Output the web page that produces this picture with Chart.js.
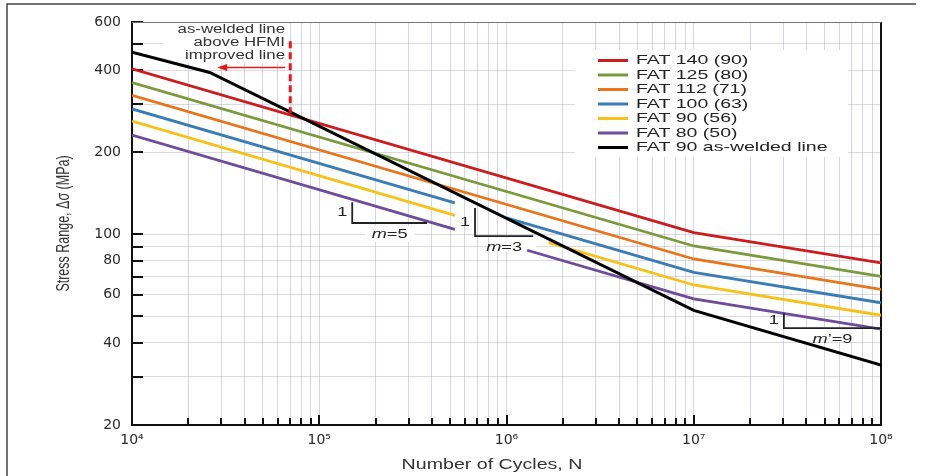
<!DOCTYPE html>
<html>
<head>
<meta charset="utf-8">
<script src="https://cdn.jsdelivr.net/npm/chart.js@4.4.0/dist/chart.umd.min.js"></script>
<style>
  html, body { margin: 0; padding: 0; background: #fff; }
  canvas { display: block; }
</style>
</head>
<body>
<canvas id="sn" width="931" height="476"></canvas>
<script>
/* S-N curves, HFMI improved classes vs as-welded FAT 90 */

// number of cycles / stress range (MPa) for every line
const n140 = [1e4, 1e7, 1e8];
const s140 = [404, 101.5, 78.6];
const n125 = [1e4, 1e7, 1e8];
const s125 = [360, 90.6, 70.1];
const n112 = [1e4, 1e7, 1e8];
const s112 = [323, 81.2, 62.8];
// these three are cut where the m=3 label sits
const n100 = [1e4, 5.3e5, 7e5, 1e6, 1e7, 1e8];
const s100 = [288, 130.4, null, 114.9, 72.5, 56.1];
const n90 = [1e4, 5.3e5, 1e6, 1.68e6, 1e7, 1e8];
const s90 = [260, 117.4, null, 93.2, 65.2, 50.5];
const n80 = [1e4, 5.3e5, 9e5, 1.29e6, 1e7, 1e8];
const s80 = [231, 104.3, null, 87.4, 58.0, 44.9];
const nWelded = [1e4, 2.6e4, 1e7, 1e8];
const sWelded = [465, 392, 52.6, 33.2];

const seriesLabels = ['FAT 140 (90)', 'FAT 125 (80)', 'FAT 112 (71)', 'FAT 100 (63)',
  'FAT 90 (56)', 'FAT 80 (50)', 'FAT 90 as-welded line'];
const seriesColors = ['#cc1c1e', '#7b9a3c', '#e8741c', '#3a7db4', '#f7c11a', '#6e4c99', '#000000'];

// axes
const xDecades = [1e4, 1e5, 1e6, 1e7, 1e8];
const xDecadeLabels = ['10\u2074', '10\u2075', '10\u2076', '10\u2077', '10\u2078'];
const xSubSteps = [2, 3, 4, 5, 6, 7, 8, 9];
const yTickValues = [20, 30, 40, 50, 60, 70, 80, 90, 100, 200, 300, 400, 500, 600];
const yTickLabels = [20, 40, 60, 80, 100, 200, 400, 600];

const xTickValues = [];
xDecades.forEach((d, i) => {
  xTickValues.push(d);
  if (i < xDecades.length - 1) xSubSteps.forEach(k => xTickValues.push(d * k));
});

function pts(ns, ss) {
  return ns.map((n, i) => ({ x: n, y: ss[i] }));
}

const allN = [n140, n125, n112, n100, n90, n80, nWelded];
const allS = [s140, s125, s112, s100, s90, s80, sWelded];

const datasets = seriesLabels.map((lab, i) => ({
  label: lab,
  data: pts(allN[i], allS[i]),
  borderColor: seriesColors[i],
  backgroundColor: seriesColors[i],
  borderWidth: i === 6 ? 3 : 2.8,
  pointRadius: 0,
  tension: 0,
  spanGaps: false,
  order: i === 6 ? 0 : 1
}));

const FONT = '"Liberation Sans", Arial, sans-serif';
const TICK_FONT = '"DejaVu Sans", sans-serif';

// draws text stretched sideways like the scanned figure
function wideText(ctx, str, x, y, size, align, opts) {
  opts = opts || {};
  ctx.save();
  ctx.translate(x, y);
  ctx.scale(opts.sx || 1.4, 1);
  if (opts.rot) ctx.rotate(opts.rot);
  ctx.font = (opts.italic ? 'italic ' : '') + size + 'px ' + FONT;
  ctx.fillStyle = opts.color || '#222';
  ctx.textAlign = align;
  ctx.textBaseline = 'middle';
  ctx.fillText(str, 0, 0);
  ctx.restore();
}

// "m=5" style label with italic m, centred on cx
function slopeText(ctx, lead, rest, cx, cy) {
  ctx.save();
  ctx.font = 'italic 13px ' + FONT;
  const w1 = ctx.measureText(lead).width;
  ctx.font = '13px ' + FONT;
  const w2 = ctx.measureText(rest).width;
  ctx.restore();
  const total = (w1 + w2) * 1.4;
  wideText(ctx, lead, cx - total / 2, cy, 13, 'left', { italic: true });
  wideText(ctx, rest, cx - total / 2 + w1 * 1.4, cy, 13, 'left');
}

function triangle(ctx, c, nTop, sTop, sBot, nEnd, lead, rest) {
  const x0 = c.scales.x.getPixelForValue(nTop);
  const y0 = c.scales.y.getPixelForValue(sTop);
  const y1 = c.scales.y.getPixelForValue(sBot);
  const x1 = c.scales.x.getPixelForValue(nEnd);
  ctx.save();
  ctx.strokeStyle = '#222';
  ctx.lineWidth = 1.8;
  ctx.beginPath();
  ctx.moveTo(x0, y0);
  ctx.lineTo(x0, y1);
  ctx.lineTo(x1, y1);
  ctx.stroke();
  ctx.restore();
  wideText(ctx, '1', x0 - 10, (y0 + y1) / 2, 13, 'center');
  slopeText(ctx, lead, rest, (x0 + x1) / 2, y1 + 11);
}

const decor = {
  id: 'decor',
  beforeDatasetsDraw(c) {
    const ctx = c.ctx;
    const a = c.chartArea;
    ctx.save();
    ctx.fillStyle = '#fff';
    ctx.fillRect(163, a.top + 1, 124, 40);   // text behind the dashed marker
    ctx.fillRect(575, 50, 273, 107);          // legend
    ctx.fillRect(365, 226, 50, 16);           // m=5
    ctx.fillRect(492, 238, 44, 14);           // m=3
    ctx.fillRect(795, 328, 62, 14);           // m'=9
    // tick marks drawn inside the plot
    ctx.strokeStyle = '#111';
    ctx.lineWidth = 2;
    yTickValues.forEach(v => {
      const y = Math.round(c.scales.y.getPixelForValue(v));
      ctx.beginPath();
      ctx.moveTo(a.left, y);
      ctx.lineTo(a.left + 11, y);
      ctx.stroke();
    });
    xTickValues.forEach(v => {
      const x = Math.round(c.scales.x.getPixelForValue(v));
      const len = xDecades.includes(v) ? 10 : 7;
      ctx.beginPath();
      ctx.moveTo(x, a.bottom);
      ctx.lineTo(x, a.bottom - len);
      ctx.stroke();
    });
    // right and top frame of the plot
    ctx.beginPath();
    ctx.moveTo(a.right, a.top);
    ctx.lineTo(a.right, a.bottom);
    ctx.stroke();
    ctx.strokeStyle = '#777';
    ctx.lineWidth = 1;
    ctx.beginPath();
    ctx.moveTo(a.left, a.top + 0.5);
    ctx.lineTo(a.right, a.top + 0.5);
    ctx.stroke();
    ctx.restore();
  },
  afterDatasetsDraw(c) {
    const ctx = c.ctx;
    const xs = c.scales.x, ys = c.scales.y;

    // dashed marker: as-welded line above HFMI improved line
    const xm = xs.getPixelForValue(7e4);
    ctx.save();
    ctx.strokeStyle = '#e3191f';
    ctx.lineWidth = 3;
    ctx.setLineDash([7, 4]);
    ctx.beginPath();
    ctx.moveTo(xm, ys.getPixelForValue(510));
    ctx.lineTo(xm, ys.getPixelForValue(278));
    ctx.stroke();
    ctx.setLineDash([]);
    const ya = ys.getPixelForValue(409);
    const xa = xs.getPixelForValue(2.85e4);
    ctx.lineWidth = 1.5;
    ctx.beginPath();
    ctx.moveTo(xm - 5, ya);
    ctx.lineTo(xa + 6, ya);
    ctx.stroke();
    ctx.fillStyle = '#e3191f';
    ctx.beginPath();
    ctx.moveTo(xa, ya);
    ctx.lineTo(xa + 10, ya - 3.5);
    ctx.lineTo(xa + 10, ya + 3.5);
    ctx.closePath();
    ctx.fill();
    ctx.restore();
    wideText(ctx, 'as-welded line', 285, 30, 12, 'right', { color: '#333' });
    wideText(ctx, 'above HFMI', 285, 43, 12, 'right', { color: '#333' });
    wideText(ctx, 'improved line', 285, 56, 12, 'right', { color: '#333' });

    // slope triangles
    triangle(ctx, c, 1.5e5, 131, 110, 3.76e5, 'm', '=5');
    triangle(ctx, c, 6.79e5, 124.8, 98.5, 1.39e6, 'm', '=3');
    triangle(ctx, c, 3.03e7, 51.4, 45.3, 1e8, 'm', '\u2019=9');

    // legend
    seriesLabels.forEach((lab, i) => {
      const y = 60.5 + i * 14.5;
      ctx.save();
      ctx.strokeStyle = seriesColors[i];
      ctx.lineWidth = 3;
      ctx.beginPath();
      ctx.moveTo(598, y);
      ctx.lineTo(628, y);
      ctx.stroke();
      ctx.restore();
      wideText(ctx, lab, 636, y, 13, 'left', { color: '#222', sx: 1.5 });
    });

    // axis titles
    wideText(ctx, 'Number of Cycles, N', 492, 465, 14, 'center', { color: '#333' });
    wideText(ctx, 'Stress Range, \u0394\u03c3 (MPa)', 64, (c.chartArea.top + c.chartArea.bottom) / 2, 12.5, 'center',
      { color: '#333', rot: -Math.PI / 2 });

    // outer frame of the figure
    ctx.save();
    ctx.strokeStyle = '#444';
    ctx.lineWidth = 1.5;
    ctx.beginPath();
    ctx.moveTo(7, 476);
    ctx.lineTo(7, 4);
    ctx.lineTo(916, 4);
    ctx.stroke();
    ctx.restore();
  }
};

new Chart(document.getElementById('sn'), {
  type: 'line',
  data: { datasets: datasets },
  options: {
    responsive: false,
    devicePixelRatio: 1,
    animation: false,
    layout: { padding: { left: 0, right: 50, top: 22, bottom: 0 } },
    plugins: { legend: { display: false }, tooltip: { enabled: false } },
    scales: {
      x: {
        type: 'logarithmic',
        min: 1e4,
        max: 1e8,
        afterBuildTicks: s => { s.ticks = xTickValues.map(v => ({ value: v })); },
        afterFit: s => { s.height = 51; },
        ticks: {
          autoSkip: false,
          maxRotation: 0,
          padding: 7,
          color: '#2a2a2a',
          font: { family: TICK_FONT, size: 14 },
          callback: v => {
            const k = xDecades.indexOf(v);
            return k >= 0 ? xDecadeLabels[k] : '';
          }
        },
        grid: { color: 'rgba(150,150,205,0.4)', lineWidth: 1, drawTicks: false },
        border: { color: '#111', width: 2 }
      },
      y: {
        type: 'logarithmic',
        min: 20,
        max: 600,
        afterBuildTicks: s => { s.ticks = yTickValues.map(v => ({ value: v })); },
        afterFit: s => { s.width = 132; },
        ticks: {
          autoSkip: false,
          padding: 11,
          color: '#2a2a2a',
          font: { family: TICK_FONT, size: 14 },
          callback: v => (yTickLabels.includes(v) ? String(v) : '')
        },
        grid: { color: 'rgba(170,170,185,0.45)', lineWidth: 1, drawTicks: false },
        border: { color: '#111', width: 2 }
      }
    }
  },
  plugins: [decor]
});
</script>
</body>
</html>
